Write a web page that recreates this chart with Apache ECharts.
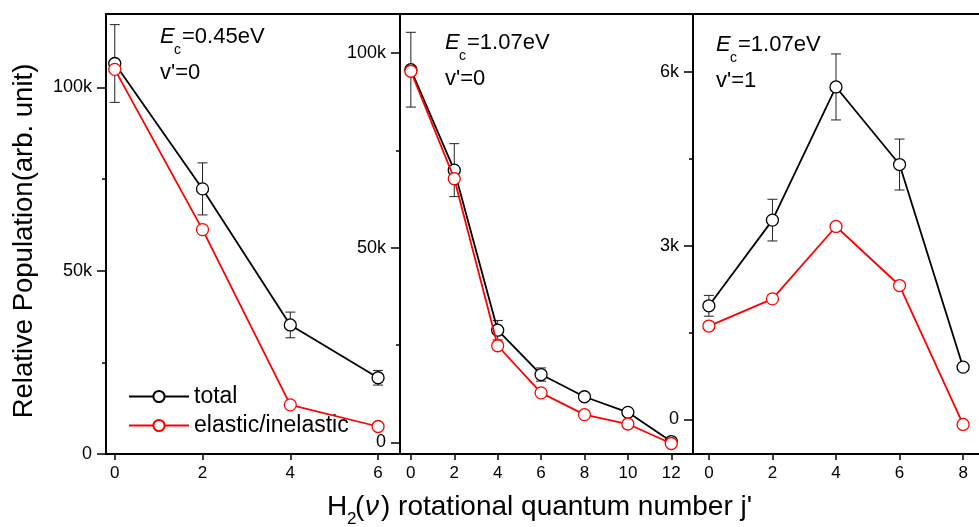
<!DOCTYPE html>
<html>
<head>
<meta charset="utf-8">
<script src="https://cdn.jsdelivr.net/npm/echarts@6/dist/echarts.min.js"></script>
<style>
html,body{margin:0;padding:0;background:#fff;}
#chart{width:979px;height:527px;}
</style>
</head>
<body>
<div id="chart"></div>
<script>
// ---- data ----
const j1 = [0, 2, 4, 6];
const total1 = [106500, 72300, 35200, 20800];
const err1 = [10600, 7100, 3500, 2000];
const elastic1 = [104900, 61200, 13400, 7500];

const j2 = [0, 2, 4, 6, 8, 10, 12];
const total2 = [95700, 69900, 28800, 17400, 11700, 7700, 200];
const err2 = [9600, 6800, 2500, 1700, 900, 800, 1000];
const elastic2 = [95300, 67700, 24800, 12700, 7100, 4700, -300];

const j3 = [0, 2, 4, 6, 8];
const total3 = [1960, 3440, 5740, 4400, 900];
const err3 = [180, 360, 570, 440, 50];
const elastic3 = [1610, 2080, 3330, 2310, -90];

const xTicks1 = [0, 2, 4, 6];
const xTicks2 = [0, 2, 4, 6, 8, 10, 12];
const xTicks3 = [0, 2, 4, 6, 8];
const yTicks1 = [0, 50000, 100000];
const yMinor1 = [25000, 75000];
const yTicks2 = [0, 50000, 100000];
const yMinor2 = [25000, 75000];
const yTicks3 = [0, 3000, 6000];
const yMinor3 = [1500, 4500];

const FONT = 'Liberation Sans, Arial, Helvetica, sans-serif';

const chart = echarts.init(document.getElementById('chart'), null, {renderer: 'canvas'});

const kfmt = v => (v === 0 ? '0' : (v / 1000) + 'k');

const grids = [
  {left: 106, top: 14, width: 294, height: 440},
  {left: 400, top: 14, width: 293, height: 440},
  {left: 693, top: 14, width: 293, height: 440}
];
const xRanges = [[-0.2, 6.5], [-0.5, 13], [-0.5, 8.5]];
const yRanges = [[0, 120000], [-3000, 110000], [-600, 7000]];
const xTicksAll = [xTicks1, xTicks2, xTicks3];
const yTicksAll = [yTicks1, yTicks2, yTicks3];
const yMinorAll = [yMinor1, yMinor2, yMinor3];

const xAxes = [], yAxes = [];
for (let g = 0; g < 3; g++) {
  xAxes.push({
    type: 'value', gridIndex: g, position: 'bottom',
    min: xRanges[g][0], max: xRanges[g][1],
    splitLine: {show: false},
    axisLine: {show: true, onZero: false, lineStyle: {color: '#000', width: 2}},
    axisTick: {show: true, inside: false, length: 6, customValues: xTicksAll[g], lineStyle: {color: '#000', width: 1.5}},
    axisLabel: {show: true, margin: 11, customValues: xTicksAll[g], color: '#000', fontSize: 17, fontFamily: FONT}
  });
  xAxes.push({
    type: 'value', gridIndex: g, position: 'top',
    min: xRanges[g][0], max: xRanges[g][1],
    splitLine: {show: false},
    axisLine: {show: true, onZero: false, lineStyle: {color: '#000', width: 2}},
    axisTick: {show: false}, axisLabel: {show: false}
  });
  yAxes.push({
    type: 'value', gridIndex: g, position: 'left',
    min: yRanges[g][0], max: yRanges[g][1],
    splitLine: {show: false},
    axisLine: {show: true, onZero: false, lineStyle: {color: '#000', width: 2}},
    axisTick: {show: true, inside: false, length: 9, customValues: yTicksAll[g], lineStyle: {color: '#000', width: 1.5}},
    axisLabel: {show: true, margin: 14, customValues: yTicksAll[g], formatter: kfmt, color: '#000', fontSize: 18, fontFamily: FONT}
  });
  yAxes.push({
    type: 'value', gridIndex: g, position: 'left',
    min: yRanges[g][0], max: yRanges[g][1],
    splitLine: {show: false},
    axisLine: {show: false, onZero: false},
    axisTick: {show: true, inside: false, length: 4, customValues: yMinorAll[g], lineStyle: {color: '#000', width: 1.5}},
    axisLabel: {show: false}
  });
}

function errSeries(g, js, tot, err) {
  return {
    type: 'custom', name: 'err' + g,
    xAxisIndex: g * 2, yAxisIndex: g * 2,
    z: 2, silent: true,
    data: js.map((x, i) => [x, tot[i] - err[i], tot[i] + err[i]]),
    renderItem: function (params, api) {
      const x = api.value(0);
      const pHi = api.coord([x, api.value(2)]);
      const pLo = api.coord([x, api.value(1)]);
      const w = 5;
      const st = {stroke: '#222', lineWidth: 1};
      return {
        type: 'group',
        children: [
          {type: 'line', shape: {x1: pHi[0], y1: pHi[1], x2: pLo[0], y2: pLo[1]}, style: st},
          {type: 'line', shape: {x1: pHi[0] - w, y1: pHi[1], x2: pHi[0] + w, y2: pHi[1]}, style: st},
          {type: 'line', shape: {x1: pLo[0] - w, y1: pLo[1], x2: pLo[0] + w, y2: pLo[1]}, style: st}
        ]
      };
    }
  };
}

function lineSeries(g, name, js, vals, color, z) {
  return {
    type: 'line', name: name,
    xAxisIndex: g * 2, yAxisIndex: g * 2,
    data: js.map((x, i) => [x, vals[i]]),
    symbol: 'circle', symbolSize: 12, showAllSymbol: true,
    z: z, animation: false,
    lineStyle: {color: color, width: 1.8},
    itemStyle: {color: '#fff', borderColor: color, borderWidth: 1.3}
  };
}

const series = [
  errSeries(0, j1, total1, err1),
  errSeries(1, j2, total2, err2),
  errSeries(2, j3, total3, err3),
  lineSeries(0, 'total', j1, total1, '#000', 3),
  lineSeries(1, 'total', j2, total2, '#000', 3),
  lineSeries(2, 'total', j3, total3, '#000', 3),
  lineSeries(0, 'elastic/inelastic', j1, elastic1, '#ff0000', 4),
  lineSeries(1, 'elastic/inelastic', j2, elastic2, '#ff0000', 4),
  lineSeries(2, 'elastic/inelastic', j3, elastic3, '#ff0000', 4)
];

function ann(x, y, energy, vib) {
  const base = {fill: '#000', fontFamily: FONT, fontSize: 22, textVerticalAlign: 'middle', textAlign: 'left'};
  return [
    {type: 'text', x: x, y: y, style: Object.assign({}, base, {text: 'E', fontStyle: 'italic'}), z: 10},
    {type: 'text', x: x + 14, y: y + 13, style: Object.assign({}, base, {text: 'c', fontSize: 14}), z: 10},
    {type: 'text', x: x + 22, y: y, style: Object.assign({}, base, {text: '=' + energy}), z: 10},
    {type: 'text', x: x, y: y + 36, style: Object.assign({}, base, {text: vib}), z: 10}
  ];
}

const titleBase = {fill: '#000', fontFamily: FONT, fontSize: 28, textVerticalAlign: 'middle', textAlign: 'left'};

const graphic = [].concat(
  ann(160, 37, '0.45eV', "v'=0"),
  ann(445, 43, '1.07eV', "v'=0"),
  ann(716, 45, '1.07eV', "v'=1"),
  [
    {type: 'text', x: 24, y: 241, rotation: Math.PI / 2,
     style: {text: 'Relative Population(arb. unit)', fill: '#000', fontFamily: FONT, fontSize: 27.5, textAlign: 'center', textVerticalAlign: 'middle'}},
    {type: 'text', x: 327, y: 507, style: Object.assign({}, titleBase, {text: 'H'})},
    {type: 'text', x: 347, y: 519, style: Object.assign({}, titleBase, {text: '2', fontSize: 17})},
    {type: 'text', x: 355, y: 507, style: Object.assign({}, titleBase, {text: '('})},
    {type: 'text', x: 365, y: 507, style: Object.assign({}, titleBase, {text: 'ν', fontStyle: 'italic'})},
    {type: 'text', x: 381, y: 507, style: Object.assign({}, titleBase, {text: ") rotational quantum number j'"})}
  ]
);

chart.setOption({
  animation: false,
  backgroundColor: '#fff',
  grid: grids,
  xAxis: xAxes,
  yAxis: yAxes,
  legend: {
    show: true,
    data: ['total', 'elastic/inelastic'],
    orient: 'vertical',
    left: 123, top: 380, padding: 5,
    itemWidth: 60, itemHeight: 14, itemGap: 6,
    textStyle: {color: '#000', fontSize: 23, fontFamily: FONT},
    selectedMode: false
  },
  series: series,
  graphic: graphic
});
</script>
</body>
</html>
